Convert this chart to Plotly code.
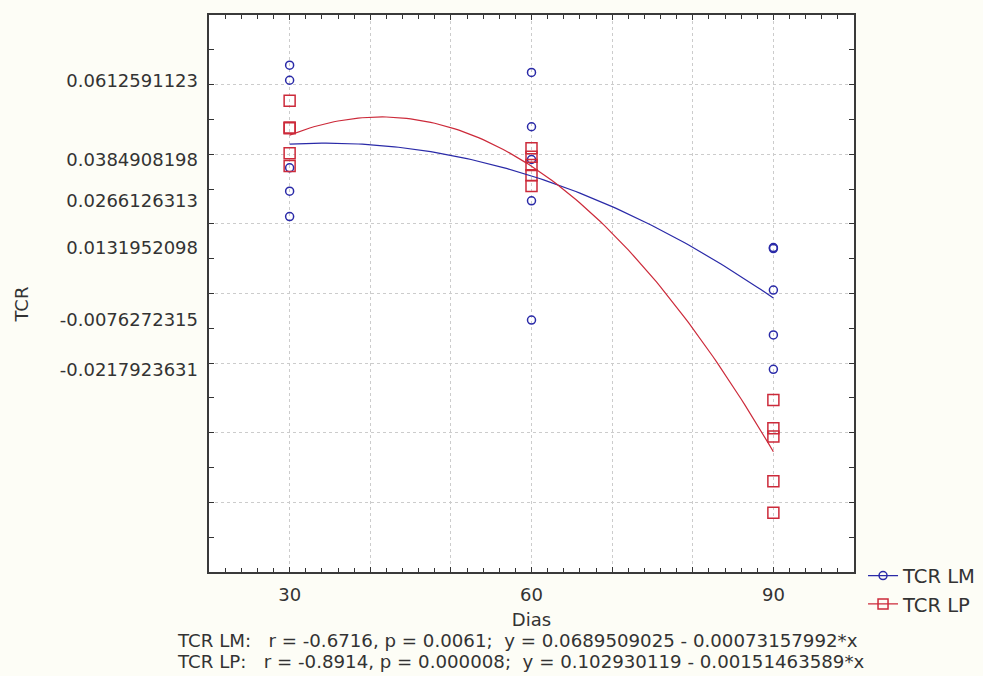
import numpy as np
import plotly.graph_objects as go

# ---- data ----
days = [30, 30, 30, 30, 30, 60, 60, 60, 60, 60, 90, 90, 90, 90, 90]
tcr_lm = [0.0656, 0.0612591123, 0.0361, 0.0294, 0.0221,
          0.0635, 0.0479, 0.0384908198, 0.0266126313, -0.0076272315,
          0.0131952098, 0.0129, 0.0010, -0.0119, -0.0217923631]
tcr_lp = [0.0554, 0.0477, 0.0475, 0.0403, 0.0366,
          0.0417, 0.0393, 0.0369, 0.0340, 0.0309,
          -0.0306, -0.0387, -0.0411, -0.0539, -0.0630]

x_tick_vals = [30, 60, 90]
x_tick_labels = ["30", "60", "90"]
y_tick_vals = [0.0612591123, 0.0384908198, 0.0266126313, 0.0131952098,
               -0.0076272315, -0.0217923631]
y_tick_labels = ["0.0612591123", "0.0384908198", "0.0266126313", "0.0131952098",
                 "-0.0076272315", "-0.0217923631"]

series_names = ["TCR LM", "TCR LP"]
stats_lines = [
    "TCR LM:\u00a0\u00a0\u00a0r = -0.6716, p = 0.0061;\u00a0\u00a0y = 0.0689509025 - 0.00073157992*x",
    "TCR LP:\u00a0\u00a0\u00a0r = -0.8914, p = 0.000008;\u00a0\u00a0y = 0.102930119 - 0.00151463589*x",
]

BLUE = "#2a2aa8"
RED = "#cc2a3a"
FONT = "DejaVu Sans"
TXT = "#333333"

# quadratic fits computed from the data
xs = np.linspace(min(days), max(days), 121)
fit_lm = np.polyval(np.polyfit(days, tcr_lm, 2), xs)
fit_lp = np.polyval(np.polyfit(days, tcr_lp, 2), xs)

fig = go.Figure()
fig.add_trace(go.Scatter(x=xs, y=fit_lm, mode="lines", line=dict(color=BLUE, width=1.2),
                         showlegend=False, hoverinfo="skip", yaxis="y2"))
fig.add_trace(go.Scatter(x=xs, y=fit_lp, mode="lines", line=dict(color=RED, width=1.2),
                         showlegend=False, hoverinfo="skip", yaxis="y2"))
fig.add_trace(go.Scatter(x=days, y=tcr_lm, mode="markers", name=series_names[0], showlegend=False,
                         marker=dict(symbol="circle-open", size=8, color=BLUE, line=dict(width=1.5))))
fig.add_trace(go.Scatter(x=days, y=tcr_lp, mode="markers", name=series_names[1], showlegend=False,
                         marker=dict(symbol="square-open", size=11, color=RED, line=dict(width=1.5))))
# legend entries with line + marker
fig.add_trace(go.Scatter(x=[None], y=[None], mode="lines+markers", name=series_names[0],
                         line=dict(color=BLUE, width=1.2),
                         marker=dict(symbol="circle-open", size=8, color=BLUE, line=dict(width=1.5))))
fig.add_trace(go.Scatter(x=[None], y=[None], mode="lines+markers", name=series_names[1],
                         line=dict(color=RED, width=1.2),
                         marker=dict(symbol="square-open", size=10, color=RED, line=dict(width=1.5))))

x_all_vals = list(range(20, 101, 10))
x_all_text = [x_tick_labels[x_tick_vals.index(v)] if v in x_tick_vals else "" for v in x_all_vals]

yr = [-0.08, 0.08]
fig.update_layout(
    width=983, height=676,
    margin=dict(l=209, r=129, t=15, b=104, autoexpand=False),
    paper_bgcolor="#fdfdf6",
    plot_bgcolor="#ffffff",
    font=dict(family=FONT, size=18, color=TXT),
    xaxis=dict(
        range=[20, 100], tickmode="array", tickvals=x_all_vals, ticktext=x_all_text,
        showgrid=True, gridcolor="#cccccc", griddash="dot", gridwidth=1,
        ticks="inside", ticklen=5, tickcolor="#333", tickwidth=1,
        minor=dict(tickmode="linear", tick0=20, dtick=2, ticks="inside", ticklen=4,
                   tickcolor="#333", showgrid=False),
        showline=True, linecolor="#3a3a3a", linewidth=2, mirror="ticks",
        zeroline=False, ticklabelstandoff=5,
        tickfont=dict(family=FONT, size=18, color=TXT),
        title=dict(text="Dias", font=dict(family=FONT, size=18, color=TXT), standoff=10),
    ),
    yaxis=dict(
        range=yr, tickmode="linear", tick0=0, dtick=0.02, showticklabels=False,
        showgrid=True, gridcolor="#cccccc", griddash="dot", gridwidth=1,
        ticks="inside", ticklen=5, tickcolor="#333", tickwidth=1,
        minor=dict(tickmode="linear", tick0=0.01, dtick=0.02, ticks="inside", ticklen=5,
                   tickcolor="#333", showgrid=False),
        showline=True, linecolor="#3a3a3a", linewidth=2, mirror="ticks",
        zeroline=False,
    ),
    yaxis2=dict(
        range=yr, overlaying="y", side="left", tickmode="array",
        tickvals=y_tick_vals, ticktext=y_tick_labels, ticks="", showgrid=False,
        zeroline=False, showline=False, ticklabelstandoff=10,
        tickfont=dict(family=FONT, size=18, color=TXT),
    ),
    legend=dict(x=1.014, xanchor="left", y=0.028, yanchor="top",
                bgcolor="rgba(0,0,0,0)", font=dict(family=FONT, size=19.5, color=TXT),
                tracegroupgap=0, itemwidth=30),
    showlegend=True,
)

fig.add_annotation(text="TCR", xref="paper", yref="paper", x=-0.29, xanchor="center",
                   y=0.48, yanchor="middle",
                   textangle=-90, showarrow=False, font=dict(family=FONT, size=18, color=TXT))
for i, line in enumerate(stats_lines):
    fig.add_annotation(text=line, xref="paper", yref="paper",
                       x=-0.052, xanchor="left", y=-(68 + 21 * i) / 557, yanchor="middle",
                       align="left", showarrow=False,
                       font=dict(family=FONT, size=18.2, color=TXT))

fig.write_html("out.html")
